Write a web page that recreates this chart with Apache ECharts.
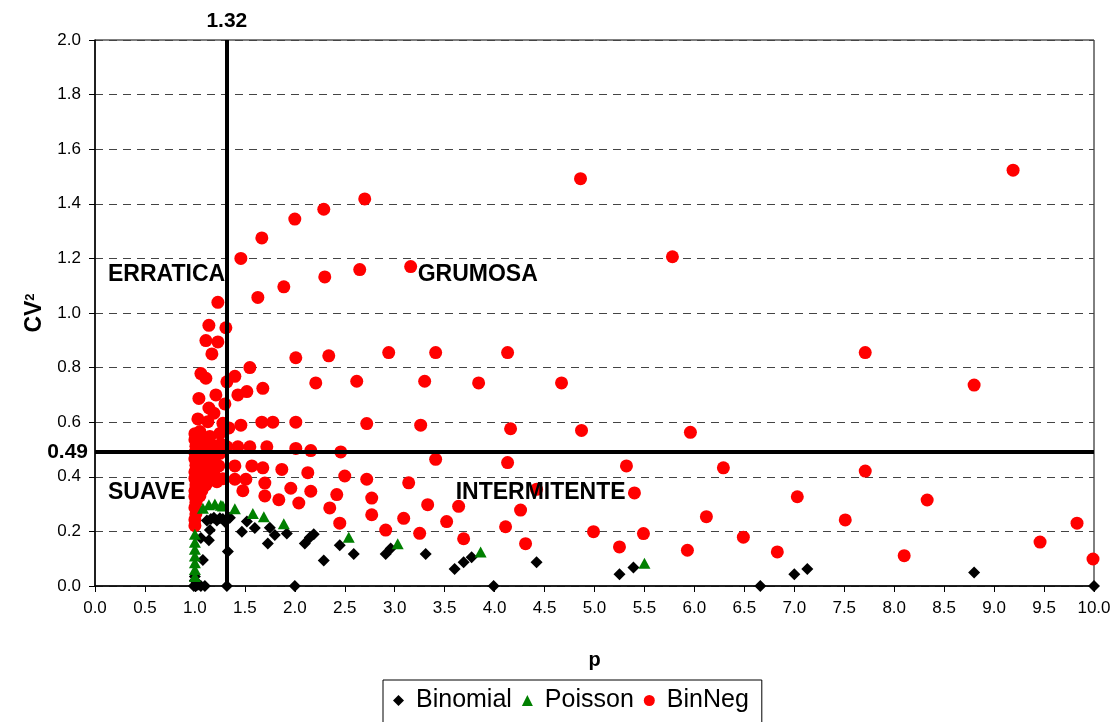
<!DOCTYPE html>
<html>
<head>
<meta charset="utf-8">
<script src="https://cdn.jsdelivr.net/npm/echarts@6/dist/echarts.min.js"></script>
<style>
  html, body { margin: 0; padding: 0; background: #fff; }
  #chart { width: 1120px; height: 722px; }
</style>
</head>
<body>
<div id="chart"></div>
<script>
// Classification of demand patterns: p (mean inter-demand interval) vs CV²
const seriesNames = ['Binomial', 'Poisson', 'BinNeg'];

// [p, CV²] pairs per fitted distribution
const binomial = [
  [0.99, 0.0], [1.01, 0.0], [1.03, 0.005], [1.06, 0.0], [1.10, 0.0], [1.0, 0.02], [1.0, 0.035],
  [1.08, 0.095], [1.14, 0.168], [1.06, 0.176], [1.15, 0.205],
  [1.12, 0.24], [1.16, 0.245], [1.19, 0.25], [1.22, 0.24], [1.25, 0.248], [1.28, 0.245],
  [1.30, 0.235], [1.32, 0.242], [1.35, 0.25],
  [1.33, 0.126], [1.32, 0.0],
  [1.47, 0.199], [1.52, 0.236], [1.60, 0.212], [1.73, 0.156], [1.75, 0.213], [1.80, 0.187],
  [1.92, 0.192], [2.0, 0.0], [2.10, 0.156], [2.15, 0.178], [2.19, 0.19], [2.29, 0.093],
  [2.45, 0.149], [2.59, 0.117], [2.91, 0.117], [2.96, 0.137], [3.31, 0.117], [3.60, 0.062],
  [3.69, 0.087], [3.77, 0.105], [3.99, 0.0], [4.42, 0.087], [5.25, 0.043], [5.39, 0.068],
  [6.66, 0.0], [7.00, 0.043], [7.13, 0.062], [8.80, 0.049], [10.0, 0.0]
];

const poisson = [
  [1.0, 0.035], [1.0, 0.06], [1.0, 0.085], [1.0, 0.11], [1.0, 0.135], [1.0, 0.16], [1.0, 0.19],
  [1.08, 0.285], [1.14, 0.298], [1.20, 0.30], [1.26, 0.296], [1.28, 0.293],
  [1.40, 0.283], [1.58, 0.266], [1.69, 0.254], [1.89, 0.228],
  [2.54, 0.179], [3.03, 0.155], [3.86, 0.125], [5.50, 0.083]
];

const binNeg = [
  [1.46, 1.20], [1.67, 1.275], [2.00, 1.344], [2.29, 1.38], [2.70, 1.418], [4.86, 1.492],
  [5.78, 1.206], [9.19, 1.523],
  [1.23, 1.039], [1.63, 1.057], [1.89, 1.096],
  [2.30, 1.132], [2.65, 1.159], [3.16, 1.17],
  [1.14, 0.955], [1.31, 0.946], [1.11, 0.899], [1.23, 0.894], [1.17, 0.85],
  [2.01, 0.836], [2.34, 0.843], [2.94, 0.855], [3.41, 0.855], [4.13, 0.855], [7.71, 0.855],
  [1.55, 0.80], [1.06, 0.778], [1.11, 0.761], [1.40, 0.768], [1.32, 0.748], [1.68, 0.724],
  [2.21, 0.744], [2.62, 0.750], [3.30, 0.750], [3.84, 0.744], [4.67, 0.744], [8.80, 0.736],
  [1.04, 0.687], [1.21, 0.70], [1.30, 0.667], [1.43, 0.70], [1.52, 0.712], [1.14, 0.652],
  [1.19, 0.633], [1.03, 0.612], [1.13, 0.602],
  [1.46, 0.589], [1.34, 0.579], [1.25, 0.559], [1.67, 0.60], [1.78, 0.60], [2.01, 0.60],
  [2.72, 0.595], [3.26, 0.589], [4.16, 0.576], [4.87, 0.570], [5.96, 0.563],
  [1.32, 0.51], [1.43, 0.51], [1.55, 0.51], [1.72, 0.51], [2.01, 0.504], [2.16, 0.496],
  [2.46, 0.491], [1.25, 0.486],
  [3.41, 0.464], [4.13, 0.452], [5.32, 0.44], [6.29, 0.433], [7.71, 0.421],
  [1.40, 0.44], [1.57, 0.44], [1.68, 0.433], [1.87, 0.427], [2.13, 0.415], [2.50, 0.403],
  [2.72, 0.391], [3.14, 0.378], [4.42, 0.354],
  [1.28, 0.393], [1.40, 0.391], [1.51, 0.391], [1.70, 0.377], [1.96, 0.358], [1.48, 0.349],
  [2.16, 0.347], [2.42, 0.335], [2.77, 0.322], [1.70, 0.33], [1.84, 0.316], [2.04, 0.304],
  [2.35, 0.286], [3.33, 0.298], [3.64, 0.292], [4.26, 0.278], [2.77, 0.261], [2.45, 0.230],
  [3.09, 0.248], [3.52, 0.236], [2.91, 0.205], [3.25, 0.193], [4.11, 0.217], [4.99, 0.199],
  [3.69, 0.173], [4.31, 0.155],
  [5.40, 0.341], [7.03, 0.327], [8.33, 0.315], [6.12, 0.254], [7.51, 0.242], [5.49, 0.192],
  [6.49, 0.179], [9.83, 0.230], [5.25, 0.143], [5.93, 0.131], [6.83, 0.125], [8.10, 0.111],
  [9.46, 0.161], [9.99, 0.099],
  // dense group close to p = 1
  [1.00, 0.221], [1.00, 0.243], [1.01, 0.264], [1.00, 0.287], [1.01, 0.306], [1.00, 0.328],
  [1.00, 0.349], [1.01, 0.371], [1.00, 0.394], [1.00, 0.418], [1.01, 0.442], [1.00, 0.465],
  [1.00, 0.489], [1.01, 0.512], [1.00, 0.536], [1.00, 0.558],
  [1.04, 0.392], [1.03, 0.425], [1.05, 0.458], [1.04, 0.497], [1.03, 0.53], [1.05, 0.566],
  [1.08, 0.405], [1.09, 0.436], [1.08, 0.47], [1.10, 0.503], [1.09, 0.535],
  [1.13, 0.385], [1.14, 0.418], [1.15, 0.452], [1.13, 0.485], [1.16, 0.519], [1.15, 0.548],
  [1.19, 0.412], [1.20, 0.447], [1.21, 0.478], [1.20, 0.512], [1.22, 0.382], [1.24, 0.44],
  [1.26, 0.52], [1.28, 0.596], [1.07, 0.35], [1.05, 0.33], [1.11, 0.37]
];

// Cut-off values separating the four demand classes
const pCut = 1.32;
const cv2Cut = 0.49;

// Quadrant names, anchored at their left edge
const regionLabels = [
  { name: 'ERRATICA', value: [0.13, 1.14] },
  { name: 'GRUMOSA', value: [3.23, 1.14] },
  { name: 'SUAVE', value: [0.13, 0.341] },
  { name: 'INTERMITENTE', value: [3.61, 0.341] }
];

const font = '"Liberation Sans", Arial, sans-serif';

const chart = echarts.init(document.getElementById('chart'), null, { renderer: 'canvas' });

chart.setOption({
  backgroundColor: '#fff',
  animation: false,
  textStyle: { fontFamily: font },
  grid: {
    left: 95, right: 26, top: 40, bottom: 136,
    show: true, borderColor: '#000', borderWidth: 1, backgroundColor: 'transparent'
  },
  legend: {
    data: [
      { name: 'Binomial', icon: 'diamond' },
      { name: 'Poisson', icon: 'triangle' },
      { name: 'BinNeg', icon: 'circle' }
    ],
    left: 383, top: 680,
    padding: [8, 13, 14, 10],
    borderColor: '#000', borderWidth: 1,
    itemWidth: 11, itemHeight: 11, itemGap: 10,
    textStyle: { fontSize: 25, color: '#000', fontFamily: font, padding: [0, 0, 0, 7] }
  },
  xAxis: {
    type: 'value', min: 0, max: 10, interval: 0.5,
    name: 'p', nameLocation: 'middle', nameGap: 64,
    nameTextStyle: { fontSize: 20, fontWeight: 'bold', color: '#000' },
    axisLine: { onZero: false, lineStyle: { color: '#000', width: 1.5 } },
    axisTick: { show: true, length: 6, lineStyle: { color: '#000' } },
    axisLabel: { fontSize: 17, color: '#000', margin: 14, formatter: v => v.toFixed(1) },
    splitLine: { show: false }
  },
  yAxis: {
    type: 'value', min: 0, max: 2, interval: 0.2,
    name: 'CV{sup|2}', nameLocation: 'middle', nameGap: 42, nameRotate: 90,
    nameTextStyle: {
      fontSize: 23, fontWeight: 'bold', color: '#000',
      rich: { sup: { fontSize: 13, fontWeight: 'bold', color: '#000', padding: [0, 0, 10, 0] } }
    },
    axisLine: { onZero: false, lineStyle: { color: '#000', width: 1.5 } },
    axisTick: { show: true, length: 6, lineStyle: { color: '#000' } },
    axisLabel: { fontSize: 17, color: '#000', margin: 14, formatter: v => v.toFixed(1) },
    splitLine: { show: true, lineStyle: { color: '#444', width: 1, type: [8, 6] } }
  },
  series: [
    {
      name: 'BinNeg', type: 'scatter', data: binNeg,
      symbol: 'circle', symbolSize: 13,
      itemStyle: { color: '#ff0000', opacity: 1 }, z: 2
    },
    {
      name: 'Binomial', type: 'scatter', data: binomial,
      symbol: 'diamond', symbolSize: 12,
      itemStyle: { color: '#000', opacity: 1 }, z: 3
    },
    {
      name: 'Poisson', type: 'scatter', data: poisson,
      symbol: 'triangle', symbolSize: [12, 11],
      itemStyle: { color: '#008000', opacity: 1 }, z: 4
    },
    {
      // threshold lines
      type: 'scatter', data: [], z: 5, silent: true,
      markLine: {
        silent: true, symbol: ['none', 'none'], animation: false,
        lineStyle: { color: '#000', width: 4, type: 'solid', opacity: 1 },
        emphasis: { disabled: true },
        data: [
          {
            xAxis: pCut,
            label: {
              show: true, position: 'end', distance: 8,
              formatter: () => pCut.toFixed(2),
              fontSize: 21, fontWeight: 'bold', color: '#000', fontFamily: font
            }
          },
          {
            yAxis: cv2Cut,
            label: {
              show: true, position: 'start', distance: 7,
              formatter: () => cv2Cut.toFixed(2),
              fontSize: 21, fontWeight: 'bold', color: '#000', fontFamily: font
            }
          }
        ]
      }
    },
    {
      // quadrant names
      type: 'scatter', data: regionLabels, z: 6, silent: true,
      symbolSize: 0,
      itemStyle: { opacity: 1 },
      label: {
        show: true, position: 'right', distance: 0,
        formatter: p => p.name,
        fontSize: 23, fontWeight: 'bold', color: '#000', fontFamily: font
      }
    }
  ]
});
</script>
</body>
</html>
